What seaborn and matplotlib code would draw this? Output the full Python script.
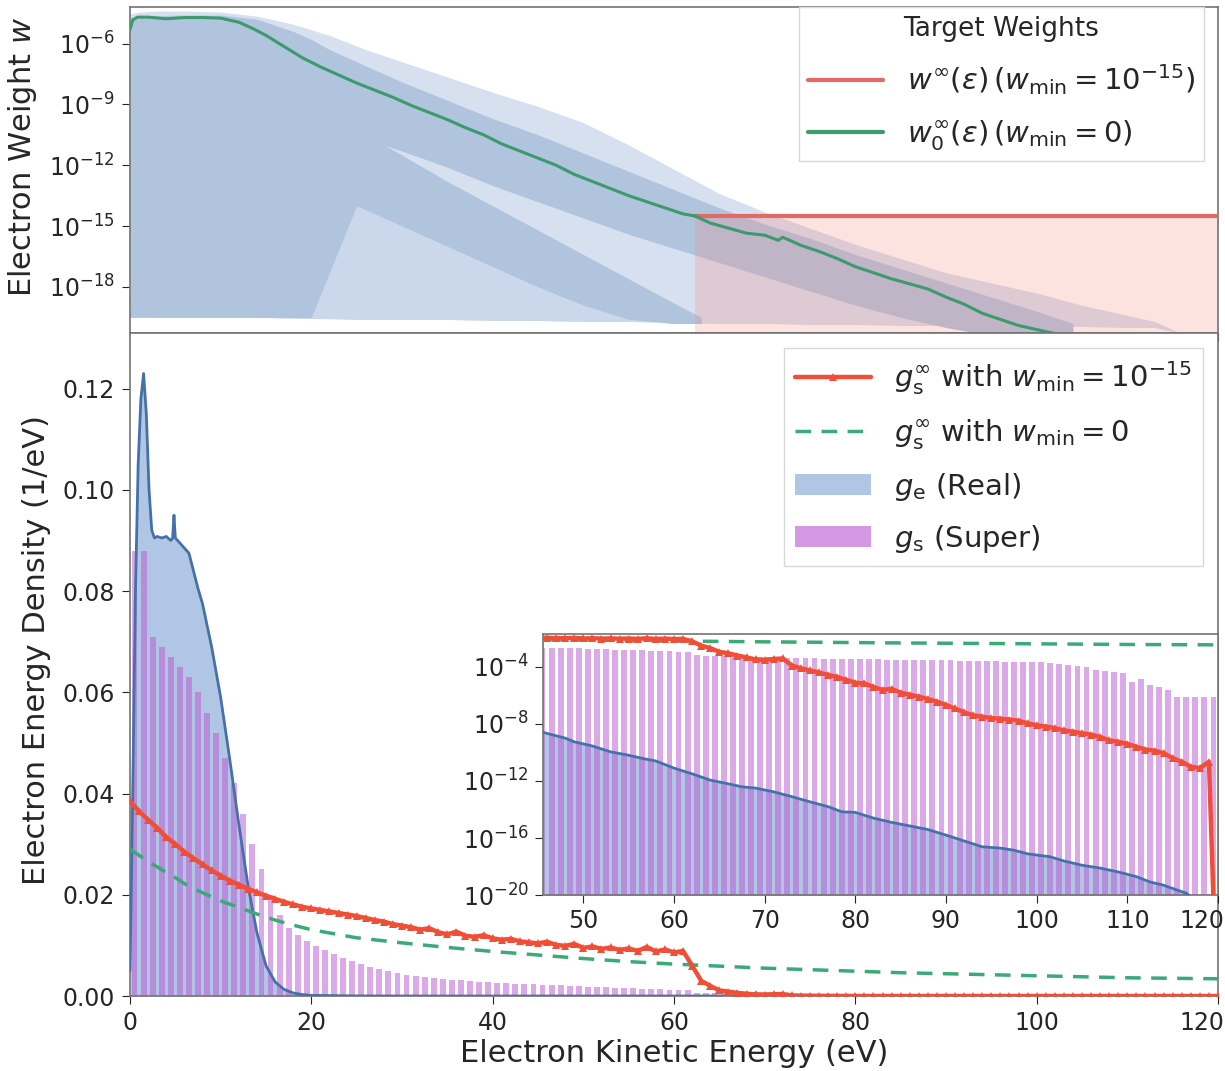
import numpy as np
import matplotlib
matplotlib.use("Agg")
import matplotlib.pyplot as plt
import matplotlib.transforms as mtrans
import seaborn as sns
from matplotlib.patches import Patch
from matplotlib.lines import Line2D

sns.set_style("ticks")
plt.rcParams['font.family'] = ['DejaVu Sans']
plt.rcParams['mathtext.fontset'] = 'dejavusans'

# ---------------- top panel data (log10 of weight) ----------------
eps_cloud = [0, 1, 3, 6, 10, 14, 18, 22, 26, 30, 35, 40, 45, 50, 55, 60, 65, 70, 75, 80, 85, 90, 95, 100, 105, 110, 113, 116]
cloud_top = [-4.55, -4.45, -4.4, -4.4, -4.45, -4.65, -5.05, -5.6, -6.3, -6.9, -7.65, -8.4, -9.1, -9.9, -11.0, -12.2,
             -13.4, -14.3, -15.1, -15.9, -16.6, -17.3, -17.8, -18.3, -18.9, -19.4, -19.7, -20.3]
cloud_bot = [-19.45, -19.45, -19.5, -19.5, -19.5, -19.5, -19.55, -19.55, -19.6, -19.6, -19.6, -19.65, -19.65, -19.7,
             -19.7, -19.75, -19.8, -19.8, -19.85, -19.85, -19.9, -19.9, -19.9, -19.95, -19.95, -20.0, -20.0, -20.3]

# dense band that follows the target weight (includes the fully dense low-energy block)
eps_band_up = [0, 5, 10, 14, 18, 20, 22, 26, 30, 35, 40, 45, 50, 55, 60, 65, 70, 75, 80, 85, 90, 95, 100, 104]
band_up_top = [-4.7, -4.6, -4.6, -4.8, -5.4, -5.8, -6.3, -7.1, -7.9, -8.8, -9.7, -10.5, -11.4, -12.3, -13.2, -14.1,
               -14.9, -15.6, -16.4, -17.1, -17.8, -18.5, -19.2, -19.8]
band_up_bot = [-19.5, -19.5, -19.5, -19.5, -19.5, -19.5, -10.4, -10.7, -11.3, -12.1, -13.0, -13.8, -14.6, -15.4,
               -16.1, -16.8, -17.5, -18.2, -18.9, -19.5, -20.0, -20.4, -20.5, -20.5]

# lower diagonal dense band and the thinner region beneath it
eps_band_lo = [15, 20, 25, 30, 35, 40, 45, 50, 55, 60, 63]
band_lo_top = [-7.0, -8.6, -10.2, -11.5, -12.8, -14.0, -15.2, -16.4, -17.6, -18.8, -19.5]
band_lo_bot = [-19.5, -19.5, -14.0, -15.0, -16.0, -17.0, -18.0, -18.9, -19.6, -19.8, -19.8]
band_lo_floor = [-19.5, -19.55, -19.6, -19.6, -19.6, -19.65, -19.65, -19.7, -19.7, -19.75, -19.8]

eps_w0 = [0, 0.3, 0.8, 2, 4, 6, 8, 10, 12, 13.5, 15, 17, 19, 21, 23, 25, 27, 29, 31, 33, 35, 37, 39, 41, 43, 45, 47,
          49, 51, 53, 55, 57, 59, 61, 62.3, 64, 66, 68, 70, 71.5, 72, 74, 76, 78, 80, 82, 84, 86, 88, 90, 92, 94, 96,
          98, 100, 102, 104, 106]
w0_log = [-5.3, -4.85, -4.7, -4.7, -4.78, -4.72, -4.72, -4.75, -4.95, -5.25, -5.6, -6.15, -6.7, -7.15, -7.55, -7.95,
          -8.3, -8.65, -9.05, -9.4, -9.75, -10.15, -10.5, -10.95, -11.3, -11.65, -12.0, -12.45, -12.8, -13.15, -13.5,
          -13.8, -14.1, -14.4, -14.5, -14.85, -15.1, -15.35, -15.45, -15.7, -15.55, -15.95, -16.25, -16.6, -17.0,
          -17.3, -17.6, -17.85, -18.1, -18.5, -18.85, -19.3, -19.6, -19.9, -20.1, -20.3, -20.5, -20.8]

eps_winf = [62.3, 120]
winf_log = [-14.48, -14.48]

# ---------------- bottom panel data ----------------
eps_ge_lin = [0, 0.3, 0.6, 0.9, 1.2, 1.5, 1.8, 2.1, 2.4, 2.7, 3.0, 3.5, 4.0, 4.5, 4.7, 4.85, 5.0, 5.5, 6.0, 6.5, 7.0,
              7.5, 8, 9, 10, 11, 12, 13, 14, 15, 16, 17, 18, 19, 20]
ge_lin = [0.005, 0.04, 0.08, 0.105, 0.118, 0.123, 0.115, 0.100, 0.092, 0.0905, 0.0908, 0.0905, 0.0908, 0.0900, 0.0905,
          0.0950, 0.0905, 0.0895, 0.0885, 0.0875, 0.0840, 0.0805, 0.0775, 0.069, 0.059, 0.0468, 0.034, 0.022, 0.0125,
          0.006, 0.0028, 0.0013, 0.0006, 0.00028, 0.00013]
eps_ge_log = [25, 30, 35, 40, 46, 48, 49, 51, 53, 55, 56.5, 58, 60, 62, 64, 66, 67.5, 69, 71, 73, 75, 77, 78.5, 80, 82,
              84, 86.5, 88, 90, 92, 94, 96, 97.5, 99, 101.5, 103, 105, 107, 109, 111, 112.5, 114, 116.5, 118, 120]
ge_log = [-4.8, -5.7, -6.6, -7.6, -8.67, -9.0, -9.26, -9.55, -9.96, -10.2, -10.42, -10.6, -11.1, -11.5, -11.94, -12.2,
          -12.41, -12.5, -12.76, -13.1, -13.46, -13.8, -14.16, -14.2, -14.6, -14.9, -15.21, -15.4, -15.79, -16.2,
          -16.61, -16.7, -16.85, -17.1, -17.31, -17.6, -17.9, -18.1, -18.37, -18.7, -19.07, -19.3, -19.86, -20.6, -21.5]

gs_bins_lin = [0.088, 0.088, 0.071, 0.069, 0.067, 0.065, 0.063, 0.060, 0.056, 0.052, 0.047, 0.042, 0.036, 0.030, 0.025,
               0.020, 0.016, 0.0135, 0.0120, 0.0108, 0.0098, 0.0090, 0.0083, 0.0076, 0.0069, 0.0063, 0.0058, 0.0053,
               0.0049, 0.0045, 0.0042, 0.0040, 0.0038, 0.0036, 0.0034, 0.0032, 0.0031, 0.0030, 0.0028, 0.0027, 0.0026,
               0.0025, 0.0024, 0.0023, 0.0023, 0.0022, 0.0021, 0.0021, 0.0020, 0.0019, 0.0018, 0.0018, 0.0017, 0.0016,
               0.0015, 0.0015, 0.0014, 0.0013, 0.0013, 0.0012, 0.0011, 0.0011,
               6.5e-4, 6.0e-4, 5.8e-4, 5.5e-4, 5.3e-4, 5.0e-4, 4.8e-4, 4.6e-4, 4.5e-4, 4.3e-4, 4.2e-4, 4.0e-4, 3.9e-4,
               3.8e-4, 3.7e-4, 3.6e-4, 3.5e-4, 3.4e-4, 3.3e-4, 3.2e-4, 3.2e-4, 3.1e-4, 3.1e-4, 3.0e-4, 3.0e-4, 2.9e-4,
               2.9e-4, 2.8e-4, 2.8e-4, 2.7e-4, 2.6e-4, 2.6e-4, 2.5e-4, 2.4e-4, 2.3e-4, 2.3e-4, 2.2e-4, 2.1e-4, 2.0e-4,
               1.8e-4, 1.5e-4, 1.3e-4, 1.1e-4, 9e-5, 6e-5, 5e-5, 4.5e-5, 3.5e-5, 8e-6, 1.3e-5, 5e-6, 4e-6, 2.5e-6,
               8e-7, 8e-7, 8e-7, 8e-7, 8e-7]
gs_bin_left = list(range(0, 120))

eps_red_lin = list(range(0, 66))
red_lin = [0.0385, 0.0365, 0.0348, 0.0332, 0.0314, 0.0300, 0.0285, 0.0272, 0.0260, 0.0248, 0.0238, 0.0228, 0.0220,
           0.0212, 0.0205, 0.0198, 0.0192, 0.0186, 0.0181, 0.0176, 0.0173, 0.0170, 0.0167, 0.0164, 0.0161, 0.0158,
           0.0154, 0.0150, 0.0147, 0.0142, 0.0139, 0.0136, 0.0131, 0.0134, 0.0126, 0.0122, 0.0127, 0.0119, 0.0117,
           0.0120, 0.0114, 0.0111, 0.0113, 0.0108, 0.0106, 0.0104, 0.0107, 0.0101, 0.0099, 0.0103, 0.0095, 0.0098,
           0.0093, 0.0096, 0.0091, 0.0094, 0.0089, 0.0097, 0.0088, 0.0092, 0.0086, 0.0089, 0.0060, 0.0030, 0.0020,
           0.0011]
eps_red_log = list(range(66, 121))
red_log = [-3.06, -3.22, -3.35, -3.49, -3.53, -3.46, -3.42, -3.92, -4.11, -4.26, -4.40, -4.58, -4.72, -4.92, -5.12,
           -5.17, -5.42, -5.62, -5.55, -5.82, -5.96, -6.10, -6.26, -6.44, -6.68, -6.92, -7.2, -7.4, -7.5, -7.6, -7.64,
           -7.7, -7.78, -7.96, -8.1, -8.19, -8.3, -8.46, -8.55, -8.66, -8.75, -8.92, -9.15, -9.26, -9.4, -9.6, -9.8,
           -9.88, -10.05, -10.4, -10.66, -11.0, -11.1, -10.66, -30]

eps_green = [0, 1, 2, 3, 4, 5, 6, 8, 10, 12, 14, 16, 18, 20, 25, 30, 35, 40, 45, 50, 55, 60, 65, 70, 75, 80, 85, 90,
             95, 100, 105, 110, 115, 120]
green_vals = [0.0290, 0.0278, 0.0266, 0.0255, 0.0244, 0.0234, 0.0222, 0.0204, 0.0188, 0.0175, 0.0162, 0.0150, 0.0140,
              0.0131, 0.0115, 0.0105, 0.0096, 0.0088, 0.0081, 0.0074, 0.0068, 0.0063, 0.0059, 0.0055, 0.0052, 0.0049,
              0.0046, 0.0044, 0.0042, 0.0040, 0.0038, 0.0036, 0.0035, 0.0034]

x_ticks = [0, 20, 40, 60, 80, 100, 120]
x_ticks_inset = [50, 60, 70, 80, 90, 100, 110, 120]

assert len(cloud_top) == len(eps_cloud) == len(cloud_bot)
assert len(band_up_top) == len(eps_band_up) == len(band_up_bot)
assert len(band_lo_top) == len(eps_band_lo) == len(band_lo_bot) == len(band_lo_floor)
assert len(w0_log) == len(eps_w0)
assert len(ge_lin) == len(eps_ge_lin) and len(ge_log) == len(eps_ge_log)
assert len(gs_bins_lin) == len(gs_bin_left)
assert len(red_lin) == len(eps_red_lin) and len(red_log) == len(eps_red_log)
assert len(green_vals) == len(eps_green)

P = lambda a: 10.0 ** np.asarray(a, dtype=float)

eps_ge = np.concatenate([eps_ge_lin, eps_ge_log])
g_e = np.concatenate([ge_lin, P(ge_log)])
eps_red = np.concatenate([eps_red_lin, eps_red_log])
g_red = np.concatenate([red_lin, P(red_log)])
bin_centers = np.asarray(gs_bin_left) + 0.5
g_s = np.asarray(gs_bins_lin)

# colours
C_SPARSE = '#d6e0ef'
C_MED = '#cbd8ec'
C_DENSE = '#b0c4de'
C_W0 = '#3c9a6c'
C_WINF = '#e26a66'
C_RED = '#f04e37'
C_GREEN_D = '#3aaa78'
C_GE_FILL = '#a4bce0'
C_GE_LINE = '#4472a8'
C_GS = 'mediumorchid'
SPINE = '0.45'
TICK_FS = 17
LAB_FS = 22
LEG_FS = 21

W, H = 1225, 1071
fig = plt.figure(figsize=(W / 100, H / 100), dpi=100)
ax_t = fig.add_axes([130 / W, 1 - 333 / H, 1088 / W, 326 / H])
ax_b = fig.add_axes([130 / W, 1 - 996 / H, 1088 / W, 663 / H], sharex=ax_t)

# ---------- top panel ----------
ax_t.set_yscale('log')
ax_t.fill_between(eps_cloud, P(cloud_bot), P(cloud_top), color=C_SPARSE, lw=0, zorder=1)
ax_t.fill_between(eps_band_lo, P(band_lo_floor), P(band_lo_bot), color=C_MED, lw=0, zorder=1.2)
ax_t.fill_between(eps_band_lo, P(band_lo_bot), P(band_lo_top), color=C_DENSE, lw=0, zorder=1.5)
ax_t.fill_between(eps_band_up, P(band_up_bot), P(band_up_top), color=C_DENSE, lw=0, zorder=1.5)
ax_t.fill_between(eps_winf, 1e-25, P(winf_log), color='salmon', alpha=0.22, lw=0, zorder=2)
sns.lineplot(x=eps_winf, y=P(winf_log), color=C_WINF, lw=3, ax=ax_t, zorder=3, estimator=None, sort=False)
sns.lineplot(x=eps_w0, y=P(w0_log), color=C_W0, lw=2.2, ax=ax_t, zorder=4, estimator=None, sort=False)
ax_t.set_ylim(10 ** -20.27, 10 ** -4.2)
ax_t.set_yticks([1e-6, 1e-9, 1e-12, 1e-15, 1e-18])
ax_t.yaxis.set_minor_locator(matplotlib.ticker.NullLocator())
ax_t.set_ylabel('Electron Weight $w$', fontsize=LAB_FS)
ax_t.yaxis.set_label_coords(-0.084, 0.54)
ax_t.tick_params(axis='both', labelsize=TICK_FS, length=6, pad=5)
ax_t.tick_params(axis='x', labelbottom=False)
h_top = [Line2D([], [], color=C_WINF, lw=3), Line2D([], [], color=C_W0, lw=3)]
l_top = [r'$w^{\infty}(\varepsilon)\,(w_{\min}=10^{-15})$', r'$w_0^{\infty}(\varepsilon)\,(w_{\min}=0)$']
leg = ax_t.legend(h_top, l_top, title='Target Weights', loc='upper right', fontsize=LEG_FS, title_fontsize=19,
                  handlelength=2.6, borderaxespad=0.0, bbox_to_anchor=(0.987, 1.0), framealpha=1,
                  edgecolor='0.85', fancybox=False, labelspacing=0.72, borderpad=0.3)
leg.get_frame().set_linewidth(1.0)

# ---------- bottom panel ----------
def draw_density(ax, log=False):
    base = 1e-30 if log else 0
    ax.fill_between(eps_ge, base, g_e, color=C_GE_FILL, alpha=0.85, lw=0, zorder=1)
    ax.bar(bin_centers, g_s, width=0.65, bottom=base, color=C_GS, alpha=0.5, lw=0, zorder=2)
    sns.lineplot(x=eps_ge, y=g_e, color=C_GE_LINE, lw=2, ax=ax, zorder=3, estimator=None, sort=False)
    ax.plot(eps_green, green_vals, color=C_GREEN_D, lw=2.5, dashes=(4.5, 3), zorder=4)
    sns.lineplot(x=eps_red, y=g_red, color=C_RED, lw=3.2, marker='^', markersize=5.5, markeredgewidth=0,
                 ax=ax, zorder=5, estimator=None, sort=False)

draw_density(ax_b)
ax_b.set_xlim(0, 120)
ax_b.set_ylim(0, 0.131)
ax_b.set_xticks(x_ticks, [str(t) for t in x_ticks])
ax_b.set_yticks([0, 0.02, 0.04, 0.06, 0.08, 0.10, 0.12])
ax_b.yaxis.set_major_formatter(matplotlib.ticker.FormatStrFormatter('%.2f'))
ax_b.tick_params(axis='both', labelsize=TICK_FS, length=6, pad=5)
ax_b.set_xlabel('Electron Kinetic Energy (eV)', fontsize=LAB_FS, labelpad=3)
ax_b.set_ylabel('Electron Energy Density (1/eV)', fontsize=LAB_FS)
ax_b.yaxis.set_label_coords(-0.073, 0.522)

h_bot = [Line2D([], [], color=C_RED, lw=3.2, marker='^', markersize=5.5, markeredgewidth=0),
         Line2D([], [], color=C_GREEN_D, lw=2.5, dashes=(4.5, 3)),
         Patch(facecolor=C_GE_FILL, alpha=0.85, lw=0),
         Patch(facecolor=C_GS, alpha=0.6, lw=0)]
l_bot = [r'$g_{\mathrm{s}}^{\infty}$ with $w_{\min}=10^{-15}$', r'$g_{\mathrm{s}}^{\infty}$ with $w_{\min}=0$',
         r'$g_{\mathrm{e}}$ (Real)', r'$g_{\mathrm{s}}$ (Super)']
leg2 = ax_b.legend(h_bot, l_bot, loc='upper right', fontsize=LEG_FS, handlelength=2.6, framealpha=1,
                   edgecolor='0.85', fancybox=False, labelspacing=0.68, borderaxespad=0.5)

# ---------- inset ----------
ax_in = ax_b.inset_axes([45.5 / 120, 0.152, 74.5 / 120, 0.394])
ax_in.set_yscale('log')
draw_density(ax_in, log=True)
ax_in.set_xlim(45.5, 120)
ax_in.set_ylim(1e-20, 10 ** -1.71)
ax_in.set_xticks(x_ticks_inset, [str(t) for t in x_ticks_inset])
ax_in.set_yticks([1e-4, 1e-8, 1e-12, 1e-16, 1e-20])
ax_in.yaxis.set_minor_locator(matplotlib.ticker.NullLocator())
ax_in.tick_params(axis='both', labelsize=TICK_FS, length=6, pad=4)
ax_in.set_xlabel('')
ax_in.set_ylabel('')

for ax in (ax_t, ax_b, ax_in):
    for s in ax.spines.values():
        s.set_color(SPINE)
        s.set_linewidth(1.2)
ax_t.set_xlabel('')

# keep the right-most tick labels ("120") inside the picture
shift = mtrans.ScaledTranslation(6 / 100, 0, fig.dpi_scale_trans)
for ax in (ax_b, ax_in):
    lab = ax.get_xticklabels()[-1]
    lab.set_horizontalalignment('right')
    lab.set_transform(lab.get_transform() + shift)

fig.savefig('out.png', dpi=100)
